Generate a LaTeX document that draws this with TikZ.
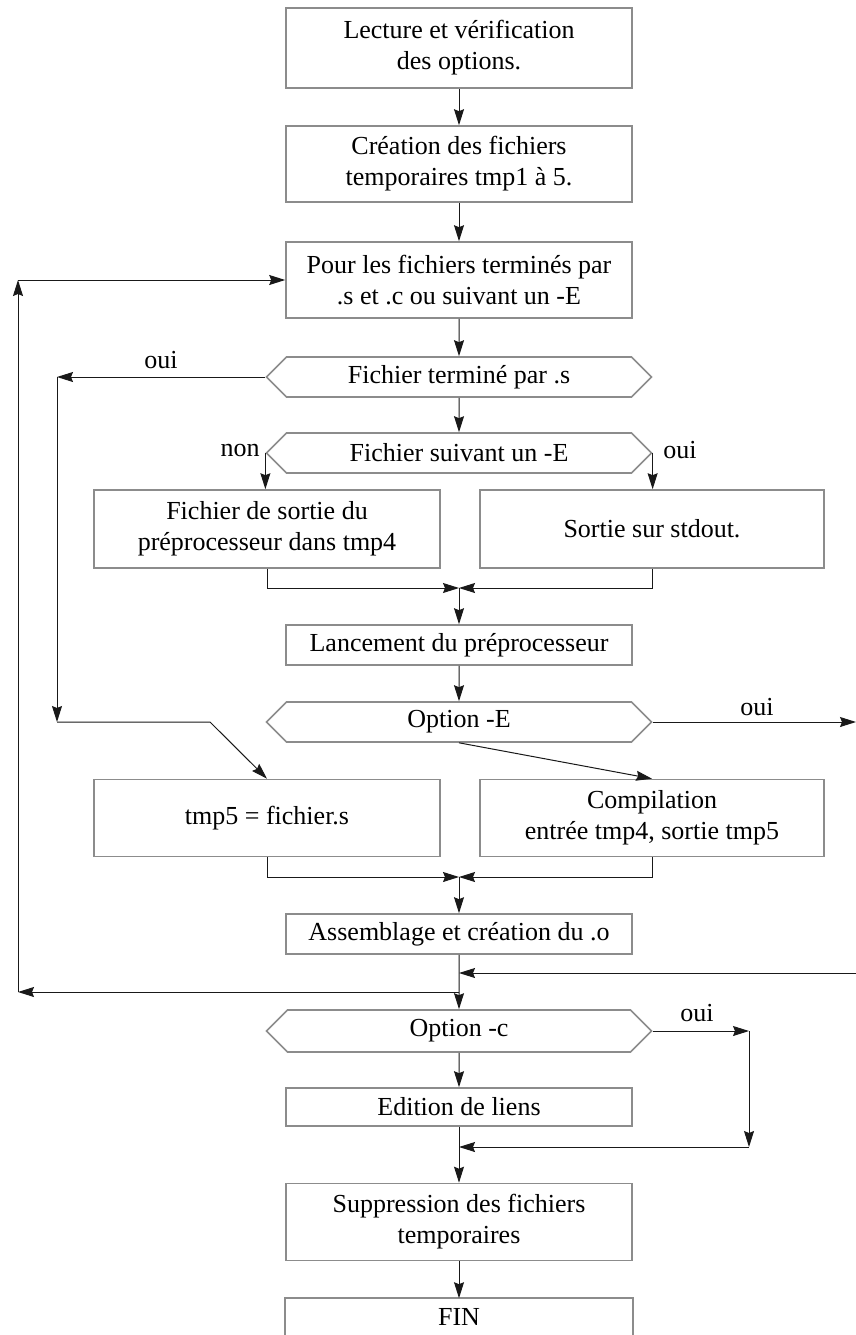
\documentclass[tikz,border=0pt]{standalone}
\usepackage{fontspec}
\setmainfont{Liberation Serif}
\usetikzlibrary{shapes.symbols,arrows.meta}
\begin{document}
\begin{tikzpicture}[x=1pt,y=-1pt,font=\fontsize{26}{31}\selectfont]
\tikzstyle{block} = [rectangle, draw=black!45, line width=1.6pt, align=center, minimum width=346pt, minimum height=78pt, inner sep=0pt]
\tikzstyle{small} = [block, minimum height=40pt]
\tikzstyle{decision} = [signal, signal to=west and east, signal from=nowhere, draw=black!45, line width=1.6pt, minimum width=385pt, minimum height=40pt, inner sep=0pt]
\tikzstyle{arrow} = [line width=1pt, draw=black!90, ->, >={Stealth[length=16pt,width=10pt,inset=2pt]}]
\tikzstyle{edge} = [draw=black!45, line width=1.6pt]
\tikzstyle{note} = [inner sep=0pt]

\useasboundingbox (0,0) rectangle (856,1335);

\node (read) [block, minimum height=80pt] at (459,48) {Lecture et vérification\\des options.};
\node (create) [block, minimum height=76pt] at (459,164) {Création des fichiers\\temporaires tmp1 à 5.};
\node (loop) [block, minimum height=76pt] at (459,280) {Pour les fichiers terminés par\\.s et .c ou suivant un -E};
\node (isS) [decision] at (459,377) {Fichier terminé par .s};
\node (isE) [decision] at (459,453) {Fichier suivant un -E};
\node (pre) [block] at (267,529) {Fichier de sortie du\\préprocesseur dans tmp4};
\node (stdout) [block, minimum width=344pt] at (652,529) {Sortie sur stdout.};
\node (run) [small] at (459,645) {Lancement du préprocesseur};
\node (optE) [decision] at (459,722) {Option -E};
\node (tmp) [block, minimum height=77pt] at (267,818) {tmp5 = fichier.s};
\node (comp) [block, minimum width=344pt, minimum height=77pt] at (652,818) {Compilation\\entrée tmp4, sortie tmp5};
\node (asm) [small] at (459,934) {Assemblage et création du .o};
\node (optC) [decision, minimum height=42pt] at (459,1031) {Option -c};
\node (link) [small, minimum height=38pt] at (459,1107) {Edition de liens};
\node (del) [block, minimum height=77pt] at (459,1222) {Suppression des fichiers\\temporaires};
\node (fin) [small, minimum height=36pt, draw=none] at (459,1317) {FIN};
\draw [edge] ([yshift=-20pt]fin.south west) |- (fin.north east) -- ([yshift=-20pt]fin.south east);

% labels
\node (ouiS) [note] at (161,360) {oui};
\node (nonE) [note] at (240,450) {non};
\node (ouiE) [note] at (680,450) {oui};
\node (ouiOptE) [note] at (757,707) {oui};
\node (ouiOptC) [note] at (697,1013) {oui};

% free ends
\coordinate (sTurn) at (57,377);
\coordinate (sDown) at (57,722);
\coordinate (sBend) at (210,722);
\coordinate (m1) at (459,588);
\coordinate (eOut) at (856,722);
\coordinate (m2) at (459,877);
\coordinate (cIn) at (856,973);
\coordinate (j1) at (459,973);
\coordinate (j2) at (459,992);
\coordinate (back) at (18,992);
\coordinate (backTop) at (18,280);
\coordinate (cOut) at (749,1031);
\coordinate (cDown) at (749,1147);
\coordinate (j3) at (459,1147);

\draw [arrow] (read) -- (create);
\draw [arrow] (create) -- (loop);
\draw [arrow] (loop) -- (isS);
\draw [arrow] (isS) -- (isE);
\draw [arrow] (isS.west) -- (sTurn);
\draw [arrow] (sTurn) -- (sDown);
\draw [arrow] (sDown) -- (sBend) -- (tmp.north);
\draw [arrow] (isE.west) -- (isE.west |- pre.north);
\draw [arrow] (isE.east) -- (isE.east |- stdout.north);
\draw [arrow] (pre.south) |- (m1);
\draw [arrow] (stdout.south) |- (m1);
\draw [arrow] (m1) -- (run);
\draw [arrow] (run) -- (optE);
\draw [arrow] (optE.east) -- (eOut);
\draw [arrow] (optE.south) -- (comp.north);
\draw [arrow] (tmp.south) |- (m2);
\draw [arrow] (comp.south) |- (m2);
\draw [arrow] (m2) -- (asm);
\draw [arrow] (asm) -- (optC);
\draw [arrow] (cIn) -- (j1);
\draw [arrow] (j2) -- (back);
\draw [arrow] (back) -- (backTop);
\draw [arrow] (backTop) -- (loop.west);
\draw [arrow] (optC.east) -- (cOut);
\draw [arrow] (cOut) -- (cDown);
\draw [arrow] (cDown) -- (j3);
\draw [arrow] (optC) -- (link);
\draw [arrow] (link) -- (del);
\draw [arrow] (del) -- (fin);
\end{tikzpicture}
\end{document}
